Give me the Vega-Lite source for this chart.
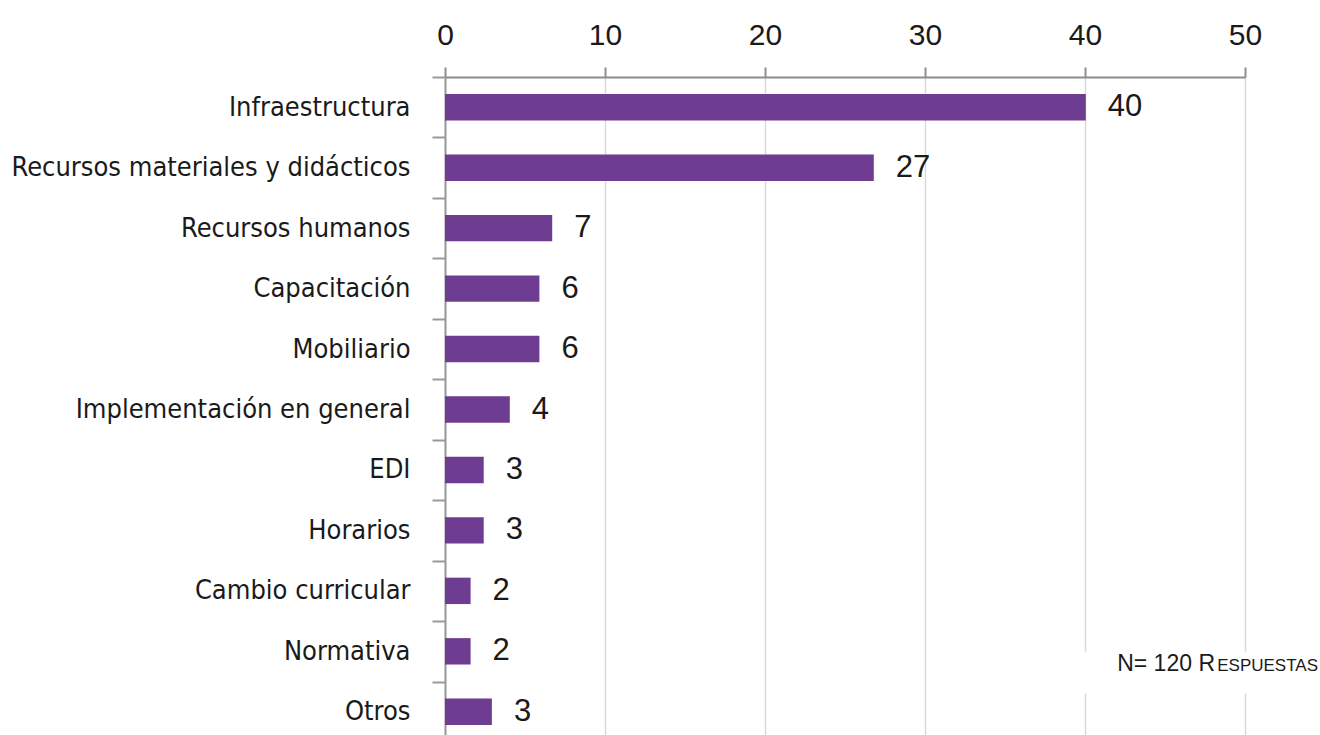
{
  "$schema": "https://vega.github.io/schema/vega-lite/v6.json",
  "width": 800,
  "height": 658,
  "autosize": {"type": "none"},
  "padding": {"left": 445, "top": 77, "right": 75, "bottom": 0},
  "background": "white",
  "config": {"view": {"stroke": null}, "font": "Liberation Sans"},
  "data": {
    "values": [
      {"categoria": "Infraestructura", "valor": 40.05, "etiqueta": "40"},
      {"categoria": "Recursos materiales y didácticos", "valor": 26.8, "etiqueta": "27"},
      {"categoria": "Recursos humanos", "valor": 6.7, "etiqueta": "7"},
      {"categoria": "Capacitación", "valor": 5.9, "etiqueta": "6"},
      {"categoria": "Mobiliario", "valor": 5.9, "etiqueta": "6"},
      {"categoria": "Implementación en general", "valor": 4.05, "etiqueta": "4"},
      {"categoria": "EDI", "valor": 2.42, "etiqueta": "3"},
      {"categoria": "Horarios", "valor": 2.42, "etiqueta": "3"},
      {"categoria": "Cambio curricular", "valor": 1.6, "etiqueta": "2"},
      {"categoria": "Normativa", "valor": 1.6, "etiqueta": "2"},
      {"categoria": "Otros", "valor": 2.93, "etiqueta": "3"}
    ]
  },
  "layer": [
    {
      "mark": {"type": "bar", "color": "#6e3d91", "height": 26.4},
      "encoding": {
        "y": {
          "field": "categoria",
          "type": "nominal",
          "scale": {
            "domain": ["Infraestructura", "Recursos materiales y didácticos", "Recursos humanos", "Capacitación", "Mobiliario", "Implementación en general", "EDI", "Horarios", "Cambio curricular", "Normativa", "Otros"],
            "range": [0, 665],
            "paddingInner": 0,
            "paddingOuter": 0
          },
          "axis": {
            "orient": "left",
            "title": null,
            "labelFont": "'DejaVu Sans Condensed', 'Liberation Sans Narrow', 'Arial Narrow', sans-serif",
            "labelFontSize": 27,
            "labelColor": "#1a1a1a",
            "labelLimit": 440,
            "labelPadding": 22,
            "tickBand": "extent",
            "tickSize": 13,
            "tickColor": "#999999",
            "tickWidth": 2,
            "domainColor": "#999999",
            "domainWidth": 2,
            "grid": false
          }
        },
        "x": {
          "field": "valor",
          "type": "quantitative",
          "scale": {"domain": [0, 50], "nice": false},
          "axis": {
            "orient": "top",
            "title": null,
            "values": [0, 10, 20, 30, 40, 50],
            "tickSize": 10,
            "tickColor": "#8c8c8c",
            "tickWidth": 2,
            "domainColor": "#8c8c8c",
            "domainWidth": 2,
            "grid": true,
            "gridColor": "#d9d9d9",
            "gridWidth": 1.5,
            "labelFontSize": 30,
            "labelColor": "#1a1a1a",
            "labelPadding": 23,
            "labelBaseline": "alphabetic",
            "labelFlush": false
          }
        }
      }
    },
    {
      "mark": {"type": "text", "align": "left", "baseline": "middle", "dx": 22, "fontSize": 31, "color": "#1a1a1a"},
      "encoding": {
        "y": {"field": "categoria", "type": "nominal"},
        "x": {"field": "valor", "type": "quantitative"},
        "text": {"field": "etiqueta"}
      }
    },
    {
      "data": {"values": [{"desde": 39.6, "hasta": 56, "fila": "Normativa"}]},
      "mark": {"type": "bar", "color": "white", "height": 42, "yOffset": 21.5},
      "encoding": {
        "y": {"field": "fila", "type": "nominal"},
        "x": {"field": "desde", "type": "quantitative"},
        "x2": {"field": "hasta"}
      }
    },
    {
      "data": {"values": [{"pos": 50, "fila": "Normativa", "texto": "N= 120 R"}]},
      "mark": {"type": "text", "align": "right", "baseline": "alphabetic", "dx": -30, "dy": 20, "fontSize": 23, "color": "#1a1a1a"},
      "encoding": {
        "y": {"field": "fila", "type": "nominal"},
        "x": {"field": "pos", "type": "quantitative"},
        "text": {"field": "texto"}
      }
    },
    {
      "data": {"values": [{"pos": 50, "fila": "Normativa", "texto": "ESPUESTAS"}]},
      "mark": {"type": "text", "align": "right", "baseline": "alphabetic", "dx": 73, "dy": 20, "fontSize": 17, "color": "#1a1a1a"},
      "encoding": {
        "y": {"field": "fila", "type": "nominal"},
        "x": {"field": "pos", "type": "quantitative"},
        "text": {"field": "texto"}
      }
    }
  ]
}
